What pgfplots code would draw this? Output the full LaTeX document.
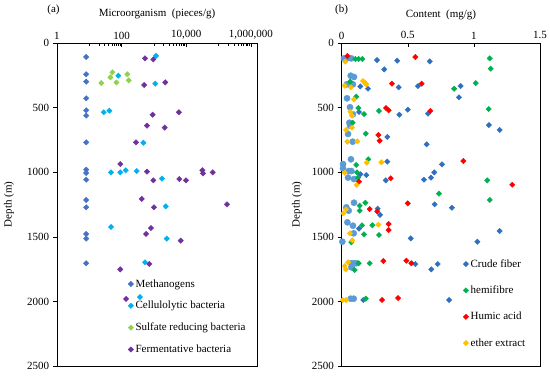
\documentclass[border=0pt]{standalone}
\usepackage{pgfplots}
\pgfplotsset{compat=1.18}
\usepackage{fontspec}
\setmainfont{Liberation Serif}
\definecolor{meth}{HTML}{4472C4}
\definecolor{cell}{HTML}{00B0F0}
\definecolor{sulf}{HTML}{92D050}
\definecolor{ferm}{HTML}{7030A0}
\definecolor{crude}{HTML}{2E6FBF}
\definecolor{hemi}{HTML}{00B050}
\definecolor{humic}{HTML}{FF0000}
\definecolor{ether}{HTML}{FFC000}
\definecolor{circ}{HTML}{5B9BD5}
\pgfplotsset{
  dia/.style={only marks, mark=square*, mark size=1.9pt, mark options={rotate=45, draw=#1, fill=#1}, color=#1},
  common/.style={
    scale only axis, height=323pt,
    ymin=0, ymax=2500, y dir=reverse,
    ytick={0,500,1000,1500,2000,2500},
    yticklabels={0,500,1000,1500,2000,2500},
    xtick pos=right, xticklabel pos=right, ytick pos=left,
    xtick align=inside, ytick align=outside,
    major tick length=4pt, minor tick length=2.5pt,
    tick style={black, line width=0.6pt},
    axis line style={black, line width=0.8pt},
    tick label style={font=\fontsize{11}{13}\selectfont},
    legend style={draw=none, fill=none, font=\fontsize{11}{13}\selectfont, inner sep=0pt, cells={anchor=west}},
    legend image code/.code={\draw[#1] plot coordinates {(0pt,0pt)};},
  }
}
\begin{document}
\fontsize{11}{13}\selectfont
\begin{tikzpicture}[x=1pt,y=1pt]
\path[use as bounding box] (0,0) rectangle (550,376);
\begin{axis}[common, at={(57pt,10pt)}, anchor=south west, width=200pt,
  xmode=log, xmin=1, xmax=1.55e6,
  xtick={1,100,10000,1000000}, xticklabels={1,100,{\mbox{10,000}},{\mbox{1,000,000}}},
  minor xtick={10,20,30,40,50,60,70,80,90,1000,2000,3000,4000,5000,6000,7000,8000,9000,100000,200000,300000,400000,500000,600000,700000,800000,900000},
  legend style={at={(0.355,0.275)}, anchor=north west, row sep=8.5pt},
]
\addplot[dia=meth] coordinates {(8,108) (8,242) (8,299) (8,428) (8,521) (8,562) (8,769) (8,980) (8,1006) (8,1058) (8,1215) (8,1272) (8,1478) (8,1514) (8,1705)};
\addlegendentry{Methanogens}
\addplot[dia=cell] coordinates {(1160,100) (79,253) (1100,315) (28,536) (42,524) (470,772) (47,1001) (91,1001) (134,985) (293,991) (1780,1050) (2320,1264) (47,1424) (2500,1514) (530,1697) (370,1966)};
\addlegendentry{Cellulolytic bacteria}
\addplot[dia=sulf] coordinates {(52,227) (45,266) (150,242) (166,289) (23.5,310) (69,305)};
\addlegendentry{Sulfate reducing bacteria}
\addplot[dia=ferm] coordinates {(530,119) (960,127) (500,325) (2240,305) (915,555) (610,640) (2150,655) (280,769) (91,937) (610,996) (960,1063) (6100,1053) (9800,1063) (31600,985) (33000,1009) (66000,1001) (420,1207) (1000,1272) (183000,1249) (810,1432) (570,1478) (6750,1530) (720,1710) (91,1752) (137,1981) (5900,536)};
\addlegendentry{Fermentative bacteria}
\end{axis}
\begin{axis}[common, at={(341.7pt,10pt)}, anchor=south west, width=198.3pt,
  xmin=0, xmax=1.5, xtick={0,0.5,1,1.5}, xticklabels={0,0.5,1,1.5},
  legend style={at={(0.612,0.337)}, anchor=north west, row sep=13pt},
]
\addplot[only marks, mark=*, mark size=3.1pt, color=circ, forget plot] coordinates {(0.017,119) (0.042,119) (0.073,119) (0.068,253) (0.093,263) (0.038,320) (0.085,320) (0.04,428) (0.063,497) (0.085,552) (0.063,640) (0.058,617) (0.048,704) (0.083,764) (0.07,900) (0.01,937) (0.01,970) (0.055,991) (0.073,991) (0.048,1042) (0.093,1053) (0.093,1236) (0.035,1272) (0.053,1298) (0.043,1388) (0.085,1414) (0.091,1473) (0.005,1538) (0.073,1705) (0.093,1705) (0.11,1705) (0.073,1736) (0.068,1979) (0.091,1979)};
\addplot[dia=crude] coordinates {(0.267,132) (0.42,137) (0.666,142) (0.322,204) (0.199,354) (0.141,336) (0.431,343) (0.577,333) (0.90,333) (0.887,420) (0.131,534) (0.436,555) (0.50,516) (0.653,547) (1.114,635) (1.195,673) (0.345,727) (0.643,784) (0.345,918) (0.759,939) (0.70,1001) (0.675,1042) (0.622,1058) (0.333,1063) (0.186,1022) (0.141,1016) (0.272,1282) (0.29,1331) (0.703,1249) (0.834,1275) (1.195,1455) (1.026,1538) (0.522,1512) (0.131,1437) (0.557,1711) (0.726,1711) (0.678,1752) (0.812,1989) (0.163,1989)};
\addlegendentry{Crude fiber}
\addplot[dia=hemi] coordinates {(0.103,124) (0.128,124) (0.156,124) (1.12,119) (1.127,199) (1.014,310) (0.85,354) (0.065,299) (0.11,415) (0.126,503) (0.169,550) (0.282,526) (1.112,511) (0.083,617) (0.182,702) (0.201,900) (0.11,944) (0.116,1001) (0.123,1042) (1.101,1063) (0.736,1166) (1.12,1215) (0.179,1236) (0.136,1259) (0.136,1298) (0.154,1411) (0.232,1411) (0.169,1481) (0.282,1486) (0.073,1543) (0.128,1705) (0.212,1705) (0.098,1757) (0.182,1979)};
\addlegendentry{hemifibre}
\addplot[dia=humic] coordinates {(0.043,101) (0.557,108) (0.38,315) (0.605,315) (0.335,503) (0.355,521) (0.67,526) (0.277,712) (0.287,756) (0.92,913) (0.371,1047) (0.131,1073) (1.29,1097) (0.50,1241) (0.212,1285) (0.269,1303) (0.355,1401) (0.355,1447) (0.315,1687) (0.489,1685) (0.527,1705) (0.305,1989) (0.426,1974)};
\addlegendentry{Humic acid}
\addplot[dia=ether] coordinates {(0.027,144) (0.023,330) (0.07,343) (0.161,294) (0.174,307) (0.186,320) (0.093,436) (0.065,532) (0.078,562) (0.078,655) (0.033,673) (0.043,764) (0.118,761) (0.189,926) (0.30,923) (0.023,1004) (0.113,1099) (0.012,1318) (0.033,1287) (0.277,1406) (0.063,1473) (0.08,1527) (0.048,1697) (0.03,1752) (0.023,1726) (0.008,1989) (0.033,1989)};
\addlegendentry{ether extract}
\end{axis}
\node at (53.5,366) {(a)};
\node at (341.5,366) {(b)};
\node at (157,362) {Microorganism~ (pieces/g)};
\node at (441,361) {Content~ (mg/g)};
\node[rotate=90] at (9,171.5) {Depth (m)};
\node[rotate=90] at (297,171.5) {Depth (m)};
\end{tikzpicture}
\end{document}
